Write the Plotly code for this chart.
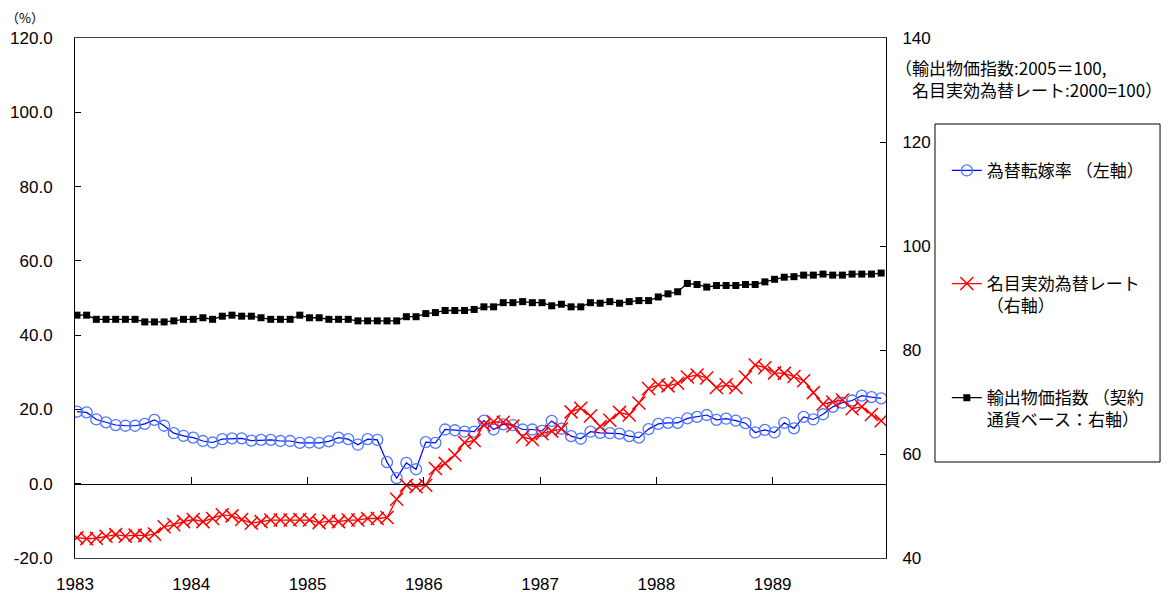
import plotly.graph_objects as go

# Monthly series, Jan 1983 - Dec 1989
years = ["1983", "1984", "1985", "1986", "1987", "1988", "1989"]

# 為替転嫁率 (%, left axis)
pass_through = [
    19.4, 19.2, 17.3, 16.5, 15.8, 15.6, 15.6, 16.1, 17.2, 15.6,
    13.6, 12.9, 12.4, 11.5, 11.1, 12.0, 12.2, 12.2, 11.6, 11.8,
    11.8, 11.5, 11.5, 11.0, 11.1, 11.0, 11.4, 12.4, 12.0, 10.5,
    12.0, 11.8, 5.8, 1.5, 5.6, 3.9, 11.2, 11.0, 14.6, 14.4,
    14.0, 14.0, 17.0, 14.6, 16.0, 15.8, 14.6, 14.6, 14.2, 16.9,
    14.8, 12.8, 12.1, 14.0, 13.7, 13.6, 13.5, 12.8, 12.4, 14.7,
    16.1, 16.4, 16.4, 17.6, 18.0, 18.5, 17.2, 17.5, 17.0, 16.3,
    13.8, 14.5, 13.8, 16.4, 14.9, 18.0, 17.3, 18.7, 20.7, 21.8,
    22.4, 23.7, 23.3, 23.0,
]

# 名目実効為替レート (2000=100, right axis)
neer = [
    43.9, 43.7, 43.8, 44.2, 44.5, 44.2, 44.4, 44.3, 44.6, 46.0,
    46.4, 47.0, 47.4, 47.0, 47.6, 48.3, 48.1, 47.4, 46.7, 47.0,
    47.3, 47.3, 47.3, 47.4, 47.3, 46.8, 47.1, 47.0, 47.3, 47.3,
    47.6, 47.6, 47.8, 51.3, 54.0, 53.7, 54.0, 57.2, 58.2, 59.8,
    62.2, 62.6, 65.6, 66.2, 66.1, 65.4, 63.3, 62.8, 63.9, 64.4,
    64.8, 68.1, 68.8, 67.3, 65.3, 66.5, 68.0, 67.5, 69.8, 72.6,
    73.3, 73.1, 73.6, 74.8, 75.2, 74.6, 72.8, 73.3, 72.8, 74.8,
    77.1, 76.6, 75.6, 75.5, 74.9, 74.1, 71.8, 69.6, 70.0, 70.4,
    68.7, 69.1, 67.6, 66.4,
]

# 輸出物価指数・契約通貨ベース (2005=100, right axis)
export_price = [
    86.7, 86.7, 85.9, 85.9, 85.9, 85.9, 85.9, 85.4, 85.4, 85.4,
    85.6, 85.9, 85.9, 86.2, 85.9, 86.5, 86.7, 86.5, 86.5, 86.2,
    85.9, 85.9, 85.9, 86.7, 86.2, 86.2, 85.9, 85.9, 85.9, 85.6,
    85.6, 85.6, 85.6, 85.6, 86.4, 86.4, 87.0, 87.2, 87.6, 87.6,
    87.6, 87.8, 88.3, 88.3, 89.1, 89.1, 89.3, 89.1, 89.1, 88.5,
    88.8, 88.3, 88.3, 89.1, 89.0, 89.3, 89.0, 89.3, 89.5, 89.5,
    90.2, 90.8, 91.2, 92.8, 92.6, 92.1, 92.4, 92.4, 92.4, 92.6,
    92.6, 93.1, 93.6, 94.0, 94.1, 94.4, 94.4, 94.6, 94.4, 94.4,
    94.6, 94.6, 94.6, 94.8,
]

left_ticks = [-20, 0, 20, 40, 60, 80, 100, 120]
left_ticktext = ["-20.0", "0.0", "20.0", "40.0", "60.0", "80.0", "100.0", "120.0"]
right_ticks = [40, 60, 80, 100, 120, 140]

month_idx = list(range(len(pass_through)))
year_pos = [12 * k - 0.2 for k in range(len(years))]
x_range = [-0.2, 83.5]

FONT = "Liberation Sans, Noto Sans CJK JP, sans-serif"
JP_FONT = "Noto Sans CJK JP, sans-serif"

fig = go.Figure()

fig.add_trace(go.Scatter(
    x=month_idx, y=pass_through, name="為替転嫁率 （左軸）",
    mode="lines+markers",
    line=dict(color="#0000FF", width=1.2),
    marker=dict(symbol="circle-open", size=11, color="#4a78ff", line=dict(width=1.3)),
    legend="legend",
))
fig.add_trace(go.Scatter(
    x=month_idx, y=neer, yaxis="y2", name="名目実効為替レート<br>（右軸）",
    mode="lines+markers",
    line=dict(color="#FF0000", width=1.3),
    marker=dict(symbol="x-thin", size=13, color="#FF0000", line=dict(color="#FF0000", width=1.5)),
    legend="legend2",
))
fig.add_trace(go.Scatter(
    x=month_idx, y=export_price, yaxis="y2", name="輸出物価指数 （契約<br>通貨ベース：右軸）",
    mode="lines+markers",
    line=dict(color="black", width=1.3),
    marker=dict(symbol="square", size=7, color="black"),
    legend="legend3",
))
# empty trace that carries the year-tick axis sitting on the zero line
fig.add_trace(go.Scatter(x=[], y=[], xaxis="x2", showlegend=False, hoverinfo="skip"))

legend_common = dict(
    x=1.075, xanchor="left", yanchor="top",
    bgcolor="rgba(0,0,0,0)", borderwidth=0,
    font=dict(family=JP_FONT, size=17, color="black"),
    itemwidth=30, valign="top",
)

fig.update_layout(
    width=1175, height=598,
    margin=dict(l=75, r=289, t=38, b=40),
    paper_bgcolor="white", plot_bgcolor="white",
    font=dict(family=FONT, size=17, color="black"),
    showlegend=True,
    xaxis=dict(
        range=x_range, tickvals=year_pos, ticktext=years,
        ticks="", showline=True, mirror=True, linecolor="#404040", linewidth=1,
        showgrid=False, zeroline=False, ticklabelstandoff=11,
        tickfont=dict(size=17), automargin=False,
    ),
    xaxis2=dict(
        overlaying="x", anchor="free", position=20 / 140,
        range=x_range, tickvals=year_pos, showticklabels=False,
        ticks="inside", ticklen=7, tickcolor="black",
        showline=True, linecolor="black", linewidth=1,
        showgrid=False, zeroline=False, automargin=False,
    ),
    yaxis=dict(
        range=[-20, 120], tickvals=left_ticks, ticktext=left_ticktext,
        ticks="inside", ticklen=6, tickcolor="black",
        showline=True, linecolor="black", linewidth=1,
        showgrid=False, zeroline=False, ticklabelstandoff=18,
        tickfont=dict(size=17), automargin=False,
    ),
    yaxis2=dict(
        overlaying="y", side="right", range=[40, 140], tickvals=right_ticks,
        ticks="inside", ticklen=6, tickcolor="black",
        showline=True, linecolor="black", linewidth=1,
        showgrid=False, zeroline=False, ticklabelstandoff=12,
        tickfont=dict(size=17), automargin=False,
    ),
    legend=dict(legend_common, y=0.779),
    legend2=dict(legend_common, y=0.5615),
    legend3=dict(legend_common, y=0.342),
    shapes=[
        # frame around the legend entries
        dict(type="rect", xref="paper", yref="paper",
             x0=1.0604, x1=1.3379, y0=0.1846, y1=0.8346,
             line=dict(color="black", width=1), fillcolor="rgba(0,0,0,0)"),
    ],
    annotations=[
        dict(text="（%）", xref="paper", yref="paper", x=-0.062, y=1.04,
             xanchor="center", yanchor="middle", showarrow=False,
             font=dict(family=JP_FONT, size=13)),
        dict(text="（輸出物価指数:2005＝100,<br>　名目実効為替レート:2000=100）",
             xref="paper", yref="paper", x=1.009, y=0.922,
             xanchor="left", yanchor="middle", align="left", showarrow=False,
             font=dict(family=JP_FONT, size=17)),
    ],
    hovermode=False,
)

fig.write_html("out.html")
